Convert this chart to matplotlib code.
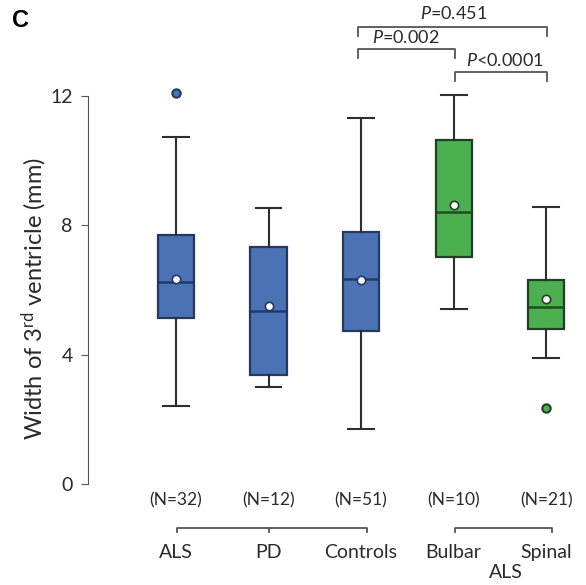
import matplotlib
matplotlib.use('Agg')
import matplotlib.pyplot as plt

plt.rcParams['font.family'] = ['Lato', 'DejaVu Sans']
plt.rcParams['mathtext.fontset'] = 'custom'
plt.rcParams['mathtext.rm'] = 'Lato'
plt.rcParams['mathtext.it'] = 'Lato:italic'

# values (mm)
groups = ['ALS', 'PD', 'Controls', 'Bulbar', 'Spinal']
n_counts = [32, 12, 51, 10, 21]
whislo = [2.41, 3.0, 1.7, 5.41, 3.9]
q1 = [5.13, 3.37, 4.73, 7.02, 4.79]
med = [6.25, 5.35, 6.34, 8.41, 5.47]
q3 = [7.70, 7.33, 7.80, 10.64, 6.31]
whishi = [10.73, 8.54, 11.32, 12.03, 8.57]
means = [6.34, 5.5, 6.3, 8.63, 5.72]
outliers = [[12.09], [], [], [], [2.35]]

blue = '#4a72b5'
green = '#4caf50'
box_colors = [blue, blue, blue, green, green]
edge_colors = ['#26395a', '#26395a', '#26395a', '#1f4024', '#1f4024']
med_colors = ['#1e3a6e', '#1e3a6e', '#1e3a6e', '#1e4d22', '#1e4d22']
txt_color = '#2a2a2a'

fig = plt.figure(figsize=(5.86, 5.85), dpi=100)
ax = fig.add_axes([0, 0, 1, 1])
ax.patch.set_alpha(0)
ax.set_xlim(0.05 - 88 / 92.5, 5.43)
ax.set_ylim(-3.12, 14.97)

pos = list(range(1, len(groups) + 1))
for i in range(len(groups)):
    st = dict(whislo=whislo[i], q1=q1[i], med=med[i], q3=q3[i],
              whishi=whishi[i], mean=means[i], fliers=outliers[i])
    ax.bxp([st], positions=[pos[i]], widths=0.39, capwidths=0.28,
           showmeans=True, patch_artist=True,
           boxprops=dict(facecolor=box_colors[i], edgecolor=edge_colors[i], linewidth=1.6),
           medianprops=dict(color=med_colors[i], linewidth=1.8),
           whiskerprops=dict(color='#2e2e2e', linewidth=1.5),
           capprops=dict(color='#2e2e2e', linewidth=1.5),
           meanprops=dict(marker='o', markerfacecolor='white', markeredgecolor=edge_colors[i],
                          markersize=6, markeredgewidth=1.2),
           flierprops=dict(marker='o', markerfacecolor=box_colors[i], markeredgecolor=edge_colors[i],
                           markersize=6, markeredgewidth=1.5))

for s in ['top', 'right', 'bottom']:
    ax.spines[s].set_visible(False)
ax.spines['left'].set_position(('data', 0.05))
ax.spines['left'].set_bounds(0, 12)
ax.spines['left'].set_color('#555555')
ax.set_yticks([0, 4, 8, 12])
ax.tick_params(axis='y', direction='out', length=5, color='#555555', labelsize=14,
               labelcolor=txt_color, pad=6)
ax.set_xticks([])

fig.text(0.058, 0.49, r'Width of 3$^{\mathrm{rd}}$ ventricle (mm)', rotation=90,
         ha='center', va='center', fontsize=17, color=txt_color)
fig.text(0.035, 0.965, 'C', fontsize=17, fontweight='bold', family='Liberation Sans',
         ha='center', va='center')

# N counts and group labels
for i in range(len(groups)):
    ax.text(pos[i], -0.5, '(N=%d)' % n_counts[i], ha='center', va='center', fontsize=12.5, color=txt_color)
    ax.text(pos[i], -2.1, groups[i], ha='center', va='center', fontsize=14, color=txt_color)
ax.text(4.56, -2.72, 'ALS', ha='center', va='center', fontsize=14, color=txt_color)

kw = dict(color='#555555', linewidth=1.3, clip_on=False)
ax.plot([1.01, 1.01, 3.06, 3.06], [-1.48, -1.36, -1.36, -1.48], **kw)
ax.plot([2.0, 2.0], [-1.36, -1.48], **kw)
ax.plot([4.02, 4.02, 5.06, 5.06], [-1.48, -1.36, -1.36, -1.48], **kw)

# significance brackets
brackets = [(2.97, 5.01, 14.13), (2.97, 4.02, 13.45), (4.02, 5.01, 12.75)]
for x0, x1, yb in brackets:
    ax.plot([x0, x0, x1, x1], [yb - 0.28, yb, yb, yb - 0.28], **kw)
for xt, yt, txt in [(4.0, 14.55, r'$\mathit{P}$=0.451'), (3.48, 13.8, r'$\mathit{P}$=0.002'),
                    (4.55, 13.1, r'$\mathit{P}$<0.0001')]:
    ax.text(xt, yt, txt, ha='center', va='center', fontsize=13, color=txt_color)

fig.savefig('out.png', dpi=100)
